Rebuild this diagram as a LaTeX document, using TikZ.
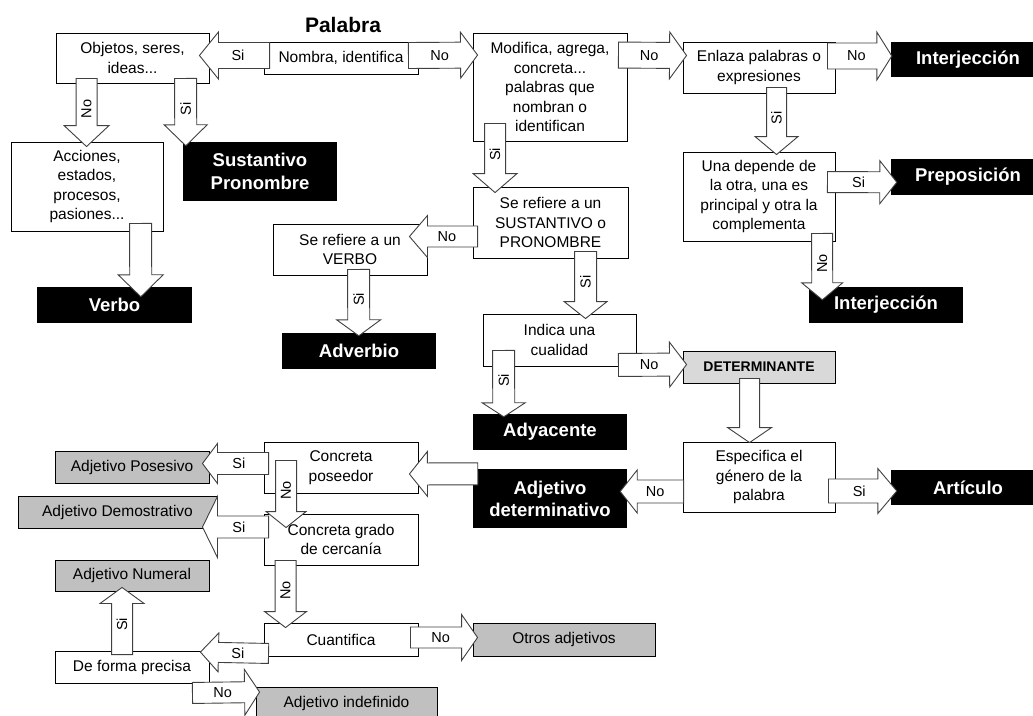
\documentclass[tikz,border=0pt]{standalone}
\usepackage{fontspec}
\setmainfont{Liberation Sans}
\usetikzlibrary{calc}

\definecolor{graybox}{HTML}{C0C0C0}
\definecolor{lightbox}{HTML}{D9D9D9}

% Hollow block arrow: id, start, tip, shaft half-width, head half-width, head length, label, label rotation
\newcommand\blockarrow[8]{%
  \coordinate (#1-s) at #2;
  \coordinate (#1-t) at #3;
  \coordinate (#1-b) at ($(#1-t)!#6pt!(#1-s)$);
  \draw[barrow] ($(#1-s)!#4pt!90:(#1-t)$) -- ($(#1-b)!#4pt!-90:(#1-s)$)
     -- ($(#1-b)!#5pt!-90:(#1-s)$) -- (#1-t) -- ($(#1-b)!#5pt!90:(#1-s)$)
     -- ($(#1-b)!#4pt!90:(#1-s)$) -- ($(#1-s)!#4pt!-90:(#1-t)$) -- cycle;
  \node[alabel, rotate=#8] (#1-lbl) at ($(#1-s)!0.45!(#1-t)$) {#7};
}

\tikzset{
  sz/.style 2 args={minimum width=#1pt, minimum height=#2pt},
  qbox/.style={draw=black, fill=white, line width=0.9pt, inner sep=0pt, align=center,
               font=\fontsize{15.5}{19.5}\selectfont},
  gbox/.style={qbox, fill=graybox},
  kbox/.style={fill=black, text=white, inner sep=0pt, align=center,
               font=\fontsize{18.5}{23}\selectfont\bfseries},
  barrow/.style={draw=black!75, fill=white, line width=0.9pt, line join=miter},
  alabel/.style={font=\fontsize{14.5}{16}\selectfont, inner sep=0pt},
}

\begin{document}
\begin{tikzpicture}[x=1pt, y=-1pt]
\useasboundingbox (0,0) rectangle (1033,715);

% ---- title ----
\node[font=\fontsize{21}{24}\selectfont\bfseries] (palabra) at (343,25) {Palabra};

% ---- decision boxes and results ----
\node[qbox, sz={153}{50}]  (objetos)    at (132.5,58)  {Objetos, seres,\\ideas...};
\node[qbox, sz={154}{32}]  (nombra)     at (341,58)    {Nombra, identifica};
\node[qbox, sz={154}{108}] (modifica)   at (550,87)    {Modifica, agrega,\\concreta...\\palabras que\\nombran o\\identifican};
\node[qbox, sz={152}{51}]  (enlaza)     at (759,67.5)  {Enlaza palabras o\\expresiones};
\node[kbox, sz={154}{35}]  (interj1)    at (968,59.5)  {Interjección};

\node[qbox, sz={152}{89}]  (acciones)   at (87,186.5)  {Acciones,\\estados,\\procesos,\\pasiones...};
\node[kbox, sz={154}{59}]  (sustantivo) at (260,171.5) {Sustantivo\\Pronombre};
\node[kbox, sz={155}{36}]  (verbo)      at (114.5,305) {Verbo};

\node[qbox, sz={152}{89}]  (una)        at (759,196.5) {Una depende de\\la otra, una es\\principal y otra la\\complementa};
\node[kbox, sz={154}{36}]  (prep)       at (968,177)   {Preposición};
\node[kbox, sz={154}{36}]  (interj2)    at (886,305)   {Interjección};

\node[qbox, sz={155}{71}]  (sustq)      at (550.5,222.5) {Se refiere a un\\SUSTANTIVO o\\PRONOMBRE};
\node[qbox, sz={154}{51}]  (verboq)     at (350,249.5) {Se refiere a un\\VERBO};
\node[kbox, sz={154}{36}]  (adverbio)   at (359,351)   {Adverbio};
\node[qbox, sz={153}{52}]  (indica)     at (559.5,340) {Indica una\\cualidad};
\node[kbox, sz={154}{36}]  (adyacente)  at (550,432)   {Adyacente};

\node[qbox, fill=lightbox, sz={152}{32}, font=\fontsize{14}{16}\selectfont\bfseries]
                           (det)        at (759,367)   {DETERMINANTE};
\node[qbox, sz={152}{70}]  (especifica) at (759,477)   {Especifica el\\género de la\\palabra};
\node[kbox, sz={154}{35}]  (articulo)   at (968,487.5) {Artículo};
\node[kbox, sz={154}{59}, font=\fontsize{18.5}{22}\selectfont\bfseries]
                           (adjdet)     at (550,498.5) {Adjetivo\\determinativo};

\node[qbox, sz={154}{51}]  (poseedor)   at (341,467.5) {Concreta\\poseedor};
\node[qbox, sz={154}{51}]  (cercania)   at (341,539.5) {Concreta grado\\de cercanía};
\node[gbox, sz={154}{32}]  (posesivo)   at (132,467)   {Adjetivo Posesivo};
\node[gbox, sz={199}{32}]  (demostrativo) at (117.5,512) {Adjetivo Demostrativo};
\node[gbox, sz={154}{31}]  (numeral)    at (132,575.5) {Adjetivo Numeral};
\node[qbox, sz={154}{33}]  (cuantifica) at (341,639.5) {Cuantifica};
\node[gbox, sz={182}{33}]  (otros)      at (564,639.5) {Otros adjetivos};
\node[qbox, sz={154}{32}]  (precisa)    at (132,667)   {De forma precisa};
\node[gbox, sz={181}{32}]  (indefinido) at (346.5,703) {Adjetivo indefinido};

% ---- block arrows ----
\blockarrow{a1}{($(nombra.west)+(6,-2.5)$)}{($(objetos.east)+(-10,-2.5)$)}{13}{23.5}{19}{Si}{0}
\blockarrow{a2}{($(nombra.east)+(-10,-2.5)$)}{($(modifica.north west)+(5,22.5)$)}{13}{23}{17}{No}{0}
\blockarrow{a3}{($(modifica.north east)+(-9,22.5)$)}{($(enlaza.west)+(4,-12)$)}{13}{23.5}{17}{No}{0}
\blockarrow{a4}{($(enlaza.east)+(-8,-11.5)$)}{($(interj1.west)+(1,-3.5)$)}{13}{24}{15}{No}{0}

\blockarrow{a5}{($(objetos.south west)+(31,-5)$)}{($(acciones.north west)+(76,5)$)}{10.5}{22.5}{21}{No}{90}
\blockarrow{a6}{($(objetos.south west)+(130,-5)$)}{($(sustantivo.north west)+(3,4)$)}{11}{21.5}{21}{Si}{90}
\blockarrow{a7}{($(acciones.south west)+(130,-8)$)}{($(verbo.north west)+(104,10)$)}{11}{22.5}{22}{}{90}
\blockarrow{a8}{($(modifica.south west)+(22.5,-18)$)}{($(sustq.north west)+(22.5,6)$)}{10.5}{22}{19}{Si}{90}
\blockarrow{a9}{($(enlaza.south west)+(94,-6)$)}{($(una.north west)+(94,3)$)}{10}{21.5}{18}{Si}{90}

\blockarrow{a10}{($(una.north east)+(-8,30.5)$)}{($(prep.north west)+(6,23.5)$)}{10.5}{21.5}{17}{Si}{0}
\blockarrow{a11}{($(una.south west)+(139.5,-8)$)}{($(interj2.north west)+(13.5,13)$)}{10.5}{20.5}{17}{No}{90}
\blockarrow{a12}{($(sustq.west)+(5,14)$)}{($(verboq.east)+(-18,-13)$)}{10.5}{21}{18}{No}{0}
\blockarrow{a13}{($(verboq.south west)+(86,-6)$)}{($(adverbio.north west)+(77,3)$)}{11}{22}{16}{Si}{90}
\blockarrow{a14}{($(sustq.south west)+(113,-7)$)}{($(indica.north west)+(103,5)$)}{11}{21.5}{17}{Si}{90}
\blockarrow{a15}{($(indica.south west)+(21,-16)$)}{($(adyacente.north west)+(31,3)$)}{11}{21.5}{14}{Si}{90}
\blockarrow{a16}{($(indica.south east)+(-18,-1.5)$)}{($(det.west)+(4,-2.5)$)}{11.5}{22.5}{17}{No}{0}
\blockarrow{a17}{($(det.south west)+(67,-5)$)}{($(especifica.north west)+(67,1)$)}{10}{22}{15}{}{90}

\blockarrow{a18}{($(especifica.east)+(-7,14)$)}{($(articulo.west)+(6,3.5)$)}{12}{22.5}{19}{Si}{0}
\blockarrow{a19}{($(especifica.west)+(1,14.5)$)}{($(adjdet.east)+(-7,-7)$)}{11.5}{21.5}{17}{No}{0}
\blockarrow{a20}{($(adjdet.north west)+(5,5)$)}{($(poseedor.east)+(-9,6.5)$)}{11}{22.5}{18}{}{0}
\blockarrow{a21}{($(poseedor.west)+(5,-4)$)}{($(posesivo.east)+(-7,-3.5)$)}{11}{20}{15}{Si}{0}
\blockarrow{a22}{($(poseedor.south west)+(22.5,-33)$)}{($(cercania.north west)+(22.5,14)$)}{10.5}{20}{16}{No}{90}
\blockarrow{a23}{($(cercania.west)+(5,-12.5)$)}{($(demostrativo.east)+(-15,15)$)}{11}{30.5}{15}{Si}{0}
\blockarrow{a24}{($(cercania.south west)+(22,-5)$)}{($(cuantifica.north west)+(22,5)$)}{10.5}{21}{16}{No}{90}
\blockarrow{a25}{($(cuantifica.east)+(-8,-2)$)}{($(otros.west)+(5,-2)$)}{10.5}{23}{16}{No}{0}
\blockarrow{a26}{($(cuantifica.south west)+(5,-3)$)}{($(precisa.north east)+(-9,1.5)$)}{10}{19.5}{18}{Si}{0}
\blockarrow{a27}{($(precisa.north west)+(67.5,4)$)}{($(numeral.south west)+(67.5,-4)$)}{10.5}{22}{16}{Si}{90}
\blockarrow{a28}{($(precisa.south east)+(-17,9.5)$)}{($(indefinido.north west)+(4,5.5)$)}{10.5}{23}{15}{No}{0}
\end{tikzpicture}
\end{document}
